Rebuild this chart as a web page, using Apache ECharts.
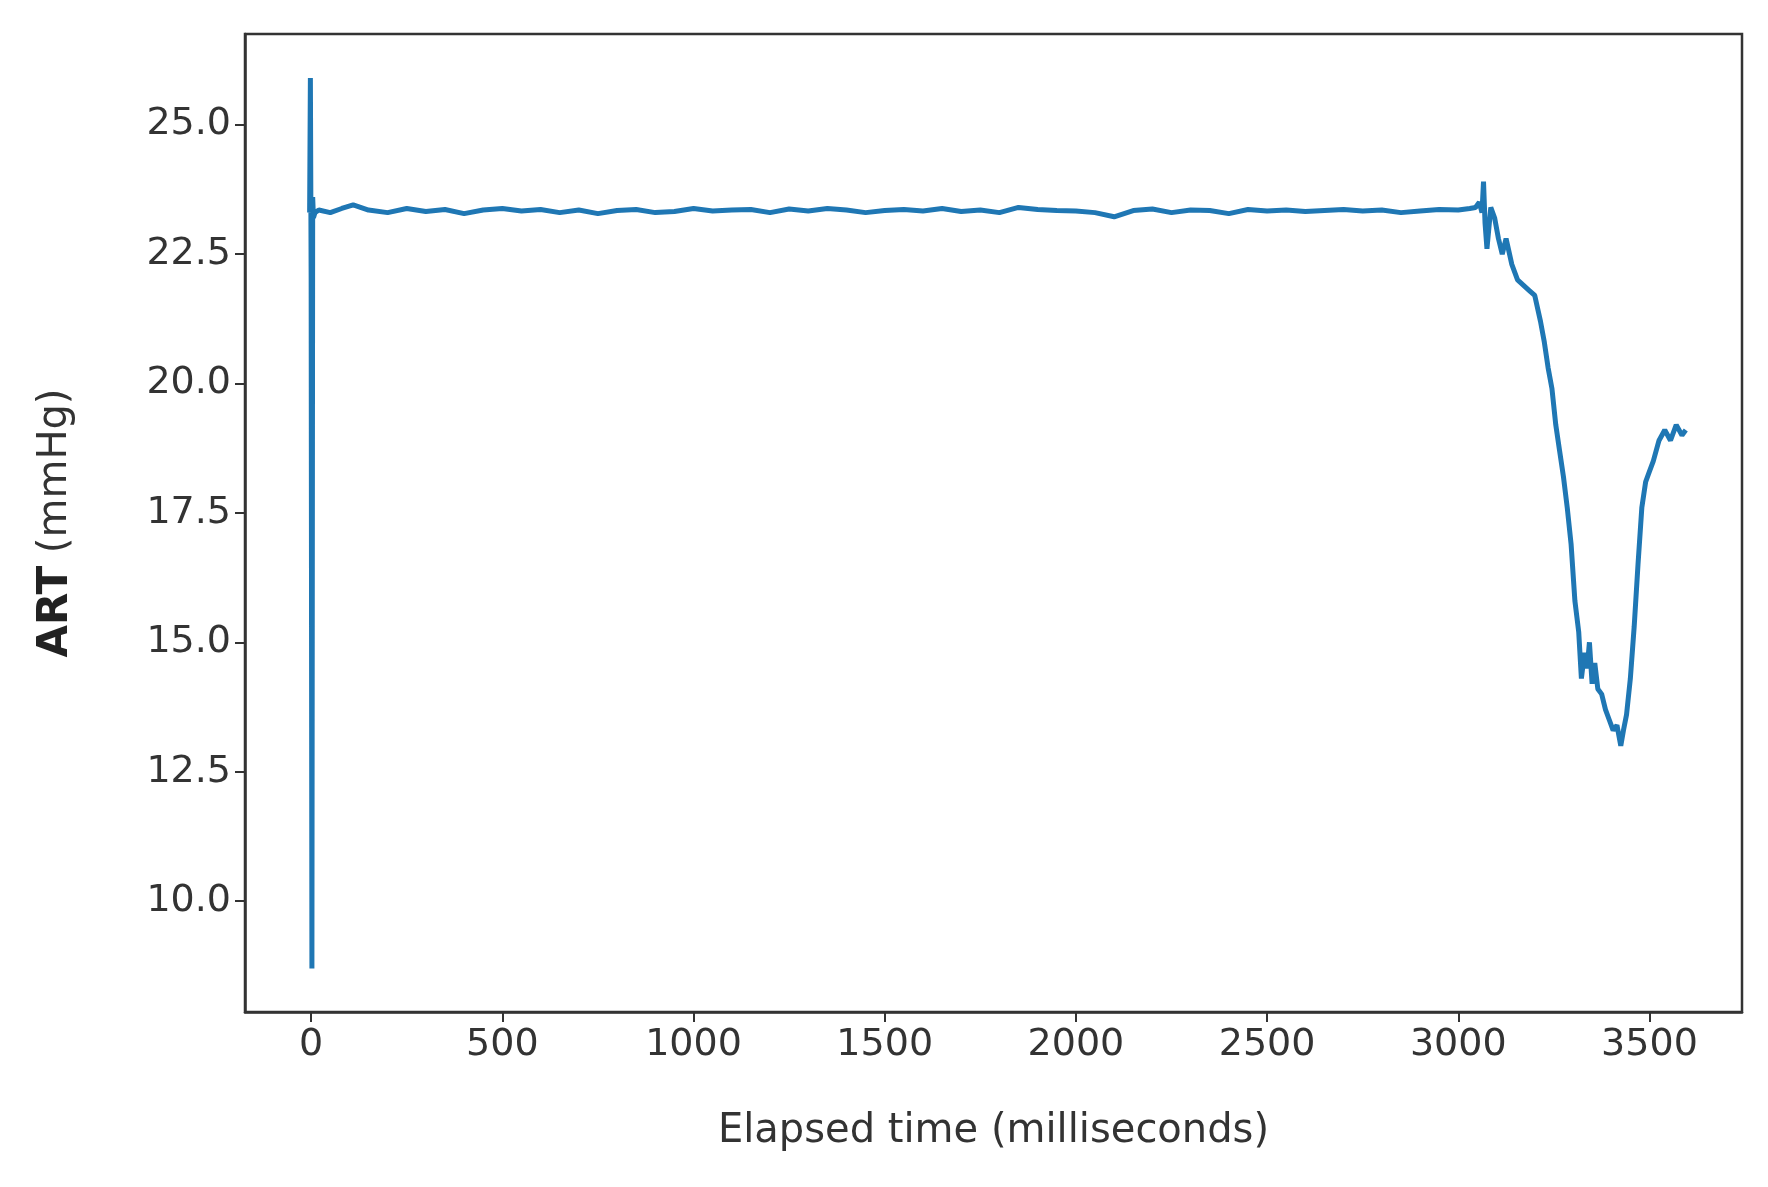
<!DOCTYPE html>
<html><head><meta charset="utf-8">
<script src="https://cdn.jsdelivr.net/npm/echarts@6/dist/echarts.min.js"></script>
<style>html,body{margin:0;padding:0;background:#fff}#c{width:1768px;height:1187px}</style>
</head><body><div id="c"></div>
<script>
const xTicks = [0,500,1000,1500,2000,2500,3000,3500];
const yTicks = [10,12.5,15,17.5,20,22.5,25];
const spikeX = [-4,-2,0,2,4,6,10];
const spikeY = [23.3,25.9,22.0,8.7,23.6,23.2,23.3];
const flatX = [20,50,80,110,150,200,250,300,350,400,450,500,550,600,650,700,750,800,850,900,950,1000,1050,1100,1150,1200,1250,1300,1350,1400,1450,1500,1550,1600,1650,1700,1750,1800,1850,1900,1950,2000,2050,2100,2150,2200,2250,2300,2350,2400,2450,2500,2550,2600,2650,2700,2750,2800,2850,2900,2950,3000,3030];
const flatY = [23.35,23.3,23.38,23.45,23.35,23.3,23.38,23.32,23.36,23.28,23.35,23.38,23.33,23.36,23.3,23.35,23.28,23.34,23.36,23.3,23.32,23.38,23.33,23.35,23.36,23.3,23.37,23.33,23.38,23.35,23.3,23.34,23.36,23.33,23.38,23.32,23.35,23.3,23.4,23.36,23.34,23.33,23.3,23.22,23.34,23.37,23.3,23.35,23.34,23.28,23.36,23.33,23.35,23.32,23.34,23.36,23.33,23.35,23.3,23.33,23.36,23.35,23.38];
const dropX = [3045,3055,3062,3066,3070,3075,3085,3095,3105,3115,3125,3140,3155,3170,3185,3200,3215,3225,3235,3245,3255,3265,3275,3285,3295,3305,3315,3322,3330,3337,3343,3350,3357,3365,3375,3385,3395,3405,3415,3425,3432,3440,3450,3460,3470,3480,3490,3500,3510,3525,3540,3555,3570,3585,3595];
const dropY = [23.4,23.5,23.3,23.9,23.1,22.6,23.4,23.2,22.8,22.5,22.8,22.3,22.0,21.9,21.8,21.7,21.2,20.8,20.3,19.9,19.2,18.7,18.2,17.6,16.9,15.8,15.2,14.3,14.8,14.5,15.0,14.2,14.6,14.1,14.0,13.7,13.5,13.3,13.4,13.0,13.3,13.6,14.3,15.3,16.5,17.6,18.1,18.3,18.5,18.9,19.1,18.9,19.2,19.0,19.1];
const data = [];
spikeX.forEach((x,i)=>data.push([x,spikeY[i]]));
flatX.forEach((x,i)=>data.push([x,flatY[i]]));
dropX.forEach((x,i)=>data.push([x,dropY[i]]));
const F = 'DejaVu Sans';
const chart = echarts.init(document.getElementById('c'));
chart.setOption({
  animation:false,
  grid:{left:245,right:26,top:34,bottom:175},
  xAxis:{type:'value',min:-173,max:3742,
    name:'Elapsed time (milliseconds)',nameLocation:'middle',nameGap:100,
    nameTextStyle:{fontFamily:F,fontSize:40,color:'#333'},
    splitLine:{show:false},
    axisLine:{onZero:false,lineStyle:{color:'#333',width:2.5}},
    axisTick:{customValues:xTicks,length:10,lineStyle:{color:'#333',width:2}},
    axisLabel:{customValues:xTicks,fontFamily:F,fontSize:38,color:'#333',margin:14,formatter:v=>String(v)}},
  yAxis:{type:'value',min:7.86,max:26.75,
    name:'{b|ART} (mmHg)',nameLocation:'middle',nameGap:168,
    nameTextStyle:{fontFamily:F,fontSize:40,color:'#333',rich:{b:{fontFamily:F,fontSize:42,fontWeight:'bold',color:'#222'}}},
    splitLine:{show:false},
    axisLine:{onZero:false,lineStyle:{color:'#333',width:2.5}},
    axisTick:{customValues:yTicks,length:10,lineStyle:{color:'#333',width:2}},
    axisLabel:{customValues:yTicks,fontFamily:F,fontSize:38,color:'#333',margin:14,
      formatter:v=>v.toFixed(1)}},
  series:[{type:'line',data:data,showSymbol:false,lineStyle:{color:'#1f77b4',width:5},z:3}],
  graphic:[{type:'rect',shape:{x:245,y:34,width:1768-245-26,height:1187-34-175},style:{fill:null,stroke:'#333',lineWidth:2.5},silent:true}]
});
</script></body></html>
